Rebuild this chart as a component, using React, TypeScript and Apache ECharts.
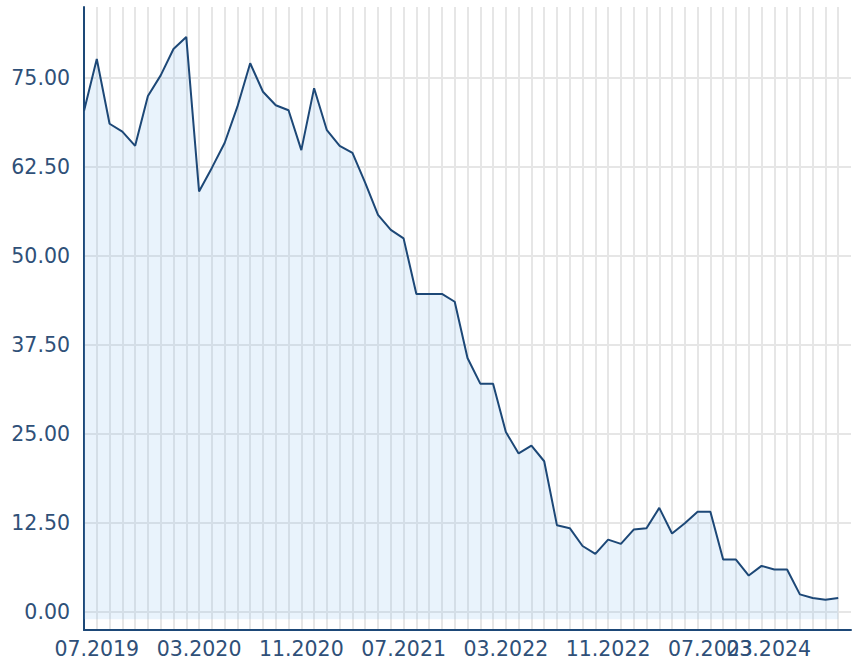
import React, { useEffect, useRef } from "react";
import * as echarts from "echarts";

const months: string[] = [
  "06.2019","07.2019","08.2019","09.2019","10.2019","11.2019","12.2019",
  "01.2020","02.2020","03.2020","04.2020","05.2020","06.2020","07.2020","08.2020","09.2020","10.2020","11.2020","12.2020",
  "01.2021","02.2021","03.2021","04.2021","05.2021","06.2021","07.2021","08.2021","09.2021","10.2021","11.2021","12.2021",
  "01.2022","02.2022","03.2022","04.2022","05.2022","06.2022","07.2022","08.2022","09.2022","10.2022","11.2022","12.2022",
  "01.2023","02.2023","03.2023","04.2023","05.2023","06.2023","07.2023","08.2023","09.2023","10.2023","11.2023","12.2023",
  "01.2024","02.2024","03.2024","04.2024","05.2024","06.2024",
];

const values: (number | null)[] = [
  70.4, 77.7, 68.6, 67.5, 65.5, 72.5, 75.4, 79.1, 80.8, 59.1,
  62.4, 65.9, 71.0, 77.1, 73.1, 71.2, 70.5, 64.9, 73.6, 67.7,
  65.5, 64.5, 60.3, 55.8, 53.7, 52.5, 44.7, 44.7, 44.7, 43.6,
  35.7, 32.1, 32.1, 25.3, 22.3, 23.4, 21.2, 12.2, 11.8, 9.3,
  8.2, 10.2, 9.6, 11.6, 11.8, 14.65, 11.05, 12.5, 14.1, 14.1,
  7.4, 7.4, 5.15, 6.5, 6.0, 6.0, 2.5, 2.0, 1.75, 2.0,
  null,
];

const yTickStep = 12.5;
const labelEvery = 8;
const firstLabelIndex = 1;
const shiftedLabelIndex = 57;

const navy = "#1d4877";
const textColor = "#2f5078";
const gridColor = "#e6e6e6";
const font = "DejaVu Sans";

export default function App() {
  const ref = useRef<HTMLDivElement>(null);
  useEffect(() => {
    document.body.style.margin = "0";
    if (!ref.current) return;
    const chart = echarts.init(ref.current, undefined, { renderer: "svg" });
    const splitColors = Array.from({ length: 10 }, (_, i) => (i === 2 ? gridColor : "rgba(0,0,0,0)"));
    const lastIndex = months.length - 1;
    chart.setOption({
      animation: false,
      grid: { left: 84, right: 3, top: 7, bottom: 34, containLabel: false },
      xAxis: {
        type: "category",
        data: months,
        boundaryGap: false,
        axisTick: { show: false },
        axisLine: { show: true, onZero: false, lineStyle: { color: navy, width: 2 } },
        axisLabel: {
          interval: (i: number) =>
            i === lastIndex || (i >= firstLabelIndex && (i - firstLabelIndex) % labelEvery === 0),
          hideOverlap: false,
          showMaxLabel: false,
          showMinLabel: true,
          color: textColor,
          fontFamily: font,
          fontSize: 20.5,
          margin: 8,
          formatter: (v: string, i: number) =>
            i === lastIndex ? "" : i === shiftedLabelIndex ? "{s|" + v + "}" : v,
          rich: {
            s: { padding: [0, 88, 0, 0], color: textColor, fontFamily: font, fontSize: 20.5 },
          },
        },
        splitLine: {
          show: true,
          interval: (i: number) => i < lastIndex,
          lineStyle: { color: gridColor, width: 2 },
        },
      },
      yAxis: {
        type: "value",
        min: -2.5,
        max: 85,
        interval: 1.25,
        axisTick: { show: false },
        axisLine: { show: true, lineStyle: { color: navy, width: 2 } },
        axisLabel: {
          color: textColor,
          fontFamily: font,
          fontSize: 20.5,
          margin: 14,
          formatter: (v: number) => {
            const c = Math.round(v * 100);
            return c >= 0 && c % Math.round(yTickStep * 100) === 0 ? v.toFixed(2) : "";
          },
        },
        splitLine: { show: true, lineStyle: { color: splitColors, width: 2 } },
      },
      series: [
        {
          type: "line",
          data: values,
          symbol: "none",
          lineStyle: { color: navy, width: 2 },
          itemStyle: { color: navy },
          areaStyle: { color: "rgba(124,181,236,0.24)", origin: -1 },
        },
      ],
    });
    return () => chart.dispose();
  }, []);
  return <div ref={ref} style={{ width: 854, height: 664 }} />;
}
